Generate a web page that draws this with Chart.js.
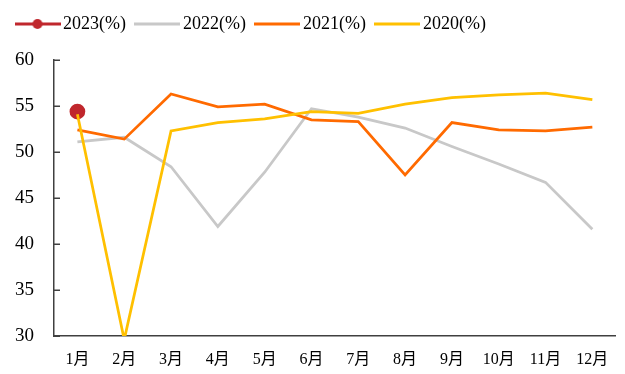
<!DOCTYPE html>
<html>
<head>
<meta charset="utf-8">
<script src="https://cdn.jsdelivr.net/npm/chart.js@4/dist/chart.umd.min.js"></script>
<style>
  html, body { margin: 0; padding: 0; background: #ffffff; }
  #wrap { width: 625px; height: 374px; position: relative; }
</style>
</head>
<body>
<div id="wrap"><canvas id="chart" width="625" height="374"></canvas></div>
<script>
// Monthly index values, by year
const months = ['1月', '2月', '3月', '4月', '5月', '6月', '7月', '8月', '9月', '10月', '11月', '12月'];
const seriesNames = ['2023(%)', '2022(%)', '2021(%)', '2020(%)'];
const values2023 = [54.4, null, null, null, null, null, null, null, null, null, null, null];
const values2022 = [51.1, 51.6, 48.4, 41.9, 47.8, 54.7, 53.8, 52.6, 50.6, 48.7, 46.7, 41.6];
const values2021 = [52.4, 51.4, 56.3, 54.9, 55.2, 53.5, 53.3, 47.5, 53.2, 52.4, 52.3, 52.7];
const values2020 = [54.1, 29.6, 52.3, 53.2, 53.6, 54.4, 54.2, 55.2, 55.9, 56.2, 56.4, 55.7];
const yTicks = [30, 35, 40, 45, 50, 55, 60];

const colors = ['#C0272D', '#C8C8C8', '#FF6A00', '#FFC000'];
const serif = "'Liberation Serif', 'Times New Roman', 'Noto Sans CJK SC', serif";

// Legend swatch: a short line, with a dot for the series drawn with markers
function swatch(color, withDot) {
  const c = document.createElement('canvas');
  c.width = 46; c.height = 12;
  const g = c.getContext('2d');
  g.strokeStyle = color;
  g.lineWidth = 3;
  g.beginPath(); g.moveTo(0, 6); g.lineTo(46, 6); g.stroke();
  if (withDot) {
    g.fillStyle = color;
    g.beginPath(); g.arc(23, 6, 5, 0, Math.PI * 2); g.fill();
  }
  return c;
}

// Extra room between the legend row and the plot
const legendSpacing = {
  id: 'legendSpacing',
  afterInit(chart) {
    const lg = chart.legend;
    if (!lg) return;
    const fit = lg.fit;
    lg.fit = function () { fit.call(this); this.height += 17; };
  }
};

// Short tick marks on the value axis, pointing into the plot
const innerTicks = {
  id: 'innerTicks',
  afterDraw(chart) {
    const ys = chart.scales.y;
    const ctx = chart.ctx;
    const x0 = ys.right;
    ctx.save();
    ctx.strokeStyle = '#404040';
    ctx.lineWidth = 1.5;
    ys.ticks.forEach(t => {
      const py = Math.round(ys.getPixelForValue(t.value)) + 0.25;
      ctx.beginPath();
      ctx.moveTo(x0, py);
      ctx.lineTo(x0 + 6, py);
      ctx.stroke();
    });
    ctx.restore();
  }
};

const datasets = [
  { label: seriesNames[0], data: values2023, borderColor: colors[0], backgroundColor: colors[0],
    pointRadius: 6.5, pointHoverRadius: 6.5, borderWidth: 2.75, order: 3 },
  { label: seriesNames[1], data: values2022, borderColor: colors[1], backgroundColor: colors[1],
    pointRadius: 0, borderWidth: 2.75, order: 2 },
  { label: seriesNames[2], data: values2021, borderColor: colors[2], backgroundColor: colors[2],
    pointRadius: 0, borderWidth: 2.75, order: 1 },
  { label: seriesNames[3], data: values2020, borderColor: colors[3], backgroundColor: colors[3],
    pointRadius: 0, borderWidth: 2.75, order: 0 }
];

new Chart(document.getElementById('chart'), {
  type: 'line',
  data: { labels: months, datasets },
  plugins: [legendSpacing, innerTicks],
  options: {
    responsive: false,
    animation: false,
    events: [],
    layout: { padding: { left: 6, right: 9, top: 0, bottom: 0 } },
    elements: { line: { tension: 0 } },
    plugins: {
      tooltip: { enabled: false },
      legend: {
        position: 'top',
        align: 'start',
        labels: {
          usePointStyle: true,
          pointStyleWidth: 33,
          padding: 15,
          color: '#000000',
          font: { family: serif, size: 18 },
          generateLabels(chart) {
            return chart.data.datasets.map((ds, i) => ({
              text: ds.label,
              datasetIndex: i,
              fontColor: '#000000',
              hidden: false,
              lineWidth: 0,
              strokeStyle: 'rgba(0,0,0,0)',
              fillStyle: 'rgba(0,0,0,0)',
              pointStyle: swatch(ds.borderColor, i === 0)
            }));
          }
        }
      }
    },
    scales: {
      x: {
        offset: true,
        grid: { display: true, drawOnChartArea: false, drawTicks: false },
        border: { display: true, color: '#404040', width: 1.5 },
        ticks: { color: '#000000', font: { family: serif, size: 16 }, padding: 14, maxRotation: 0, autoSkip: false },
        afterFit(scale) { scale.height = 38; }
      },
      y: {
        min: 30,
        max: 60,
        afterBuildTicks(scale) { scale.ticks = yTicks.map(v => ({ value: v })); },
        grid: { drawOnChartArea: false, drawTicks: false },
        border: { display: true, color: '#404040', width: 1.5 },
        ticks: { color: '#000000', font: { family: serif, size: 19 }, padding: 20 },
        afterFit(scale) { scale.width = 48; }
      }
    }
  }
});
</script>
</body>
</html>
